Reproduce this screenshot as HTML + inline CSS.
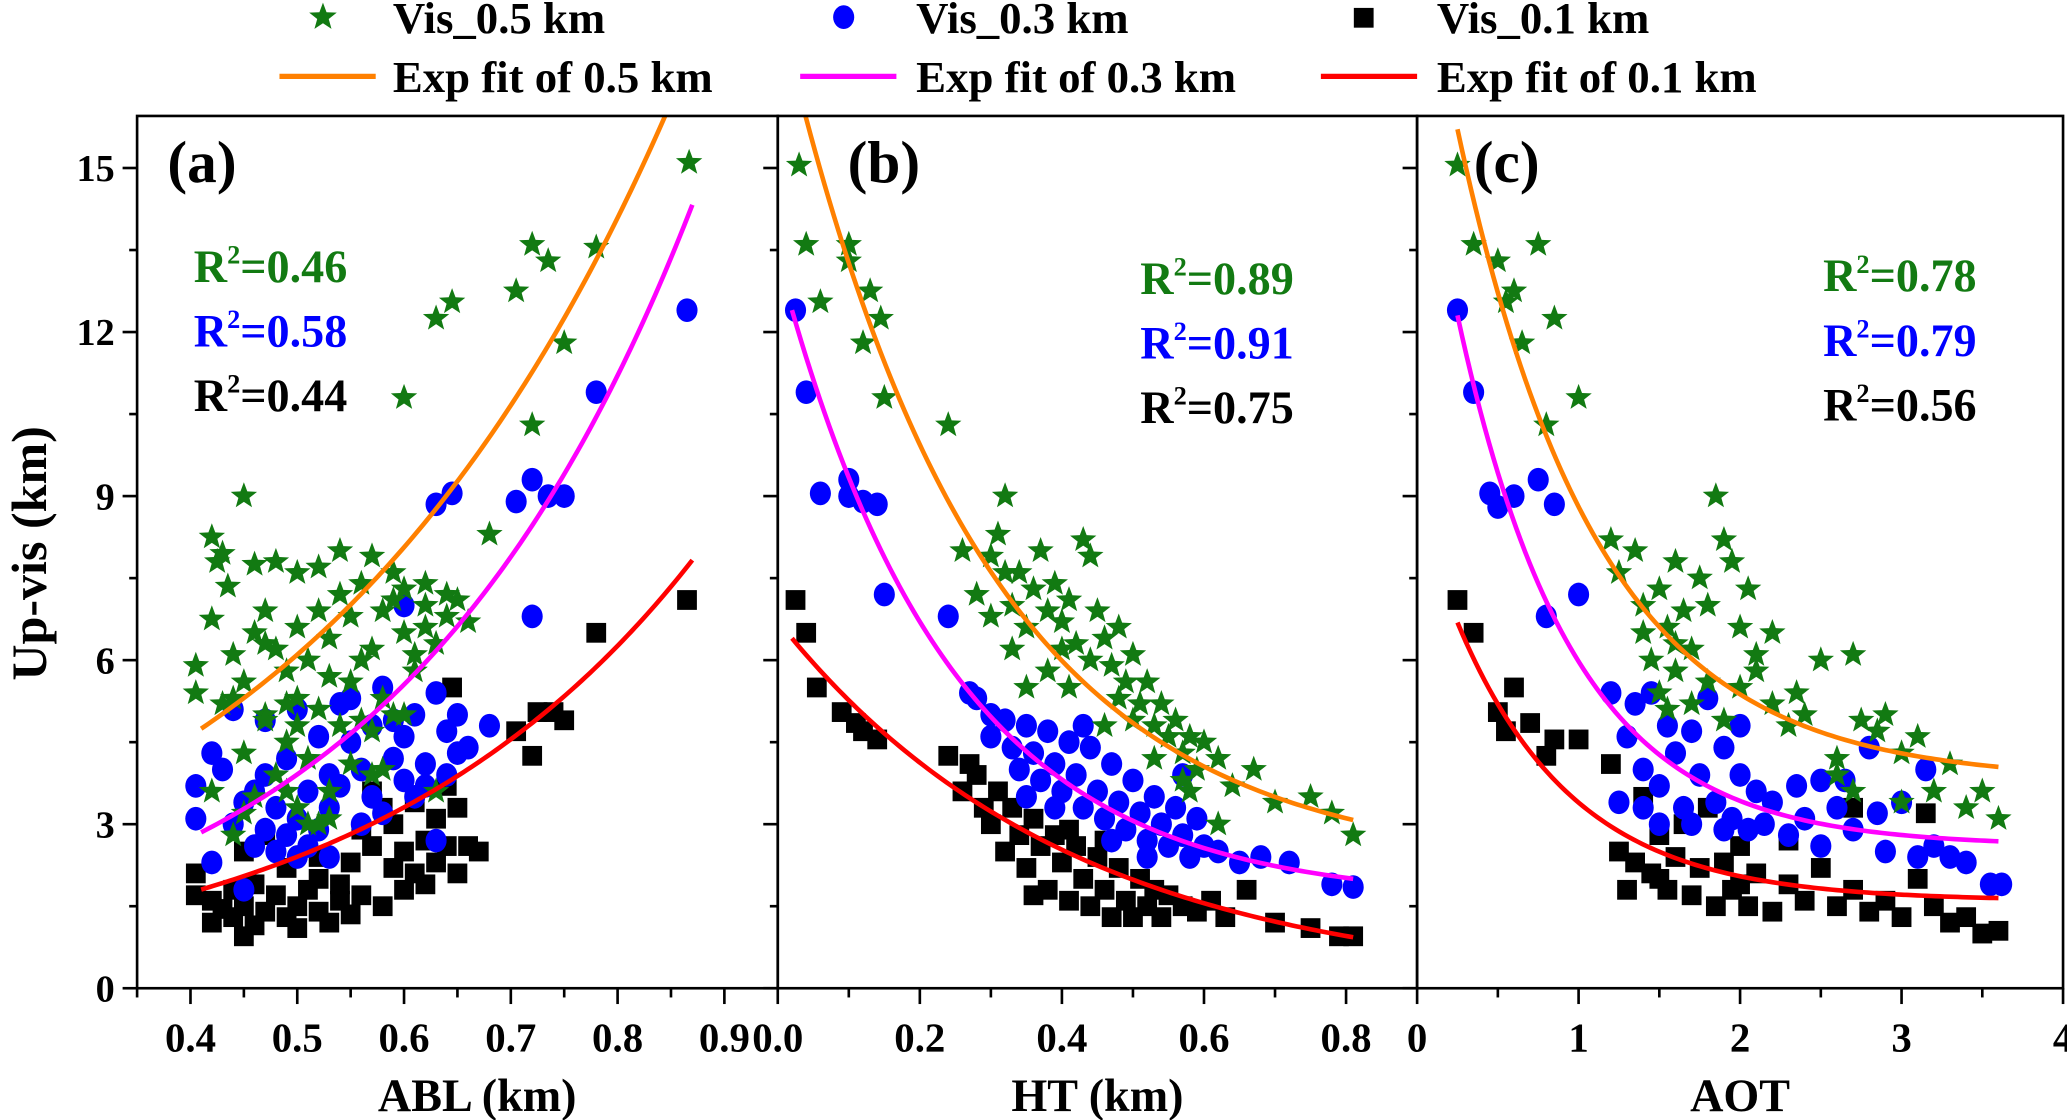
<!DOCTYPE html>
<html><head><meta charset="utf-8"><style>
html,body{margin:0;padding:0;background:#fff;}
svg{display:block;}
svg text{font-family:"Liberation Serif","DejaVu Serif",serif;font-weight:bold;}
</style></head><body>
<svg id="chart" xmlns="http://www.w3.org/2000/svg" width="2067" height="1120" viewBox="0 0 1568 850" preserveAspectRatio="none" font-family="Liberation Serif, serif" font-weight="bold">
<g id="legend">
 <g><path id="lgStar" d="" fill="#127a12"/><text x="298" y="25" font-size="34">Vis_0.5 km</text></g>
 <g><ellipse cx="640" cy="13" rx="8" ry="9" fill="#0000ff"/><text x="695" y="25" font-size="34">Vis_0.3 km</text></g>
 <g><rect x="1027" y="6" width="15" height="15" fill="#000"/><text x="1090" y="25" font-size="34">Vis_0.1 km</text></g>
 <g><line x1="212" y1="58" x2="285" y2="58" stroke="#ff8000" stroke-width="4"/><text x="298" y="70" font-size="34">Exp fit of 0.5 km</text></g>
 <g><line x1="607" y1="58" x2="680" y2="58" stroke="#ff00ff" stroke-width="4"/><text x="695" y="70" font-size="34">Exp fit of 0.3 km</text></g>
 <g><line x1="1002" y1="58" x2="1075" y2="58" stroke="#ff0000" stroke-width="4"/><text x="1090" y="70" font-size="34">Exp fit of 0.1 km</text></g>
</g>
<g id="plots"></g>
<text transform="translate(35,420) rotate(-90)" text-anchor="middle" font-size="38">Up-vis (km)</text>
</svg>
<script>
const NS="http://www.w3.org/2000/svg";
// ---- data ----
const panelNames=["a","b","c"];
const xTitles=["ABL (km)","HT (km)","AOT"];
const xRanges=[[0.35,0.95],[0,0.9],[0,4]];
const xTickLabels=[["0.4","0.5","0.6","0.7","0.8","0.9"],["0.0","0.2","0.4","0.6","0.8"],["0","1","2","3","4"]];
const xMinorTicks=[[0.35,0.45,0.55,0.65,0.75,0.85],[0.1,0.3,0.5,0.7],[0.5,1.5,2.5,3.5]];
const yTickLabels=["0","3","6","9","12","15"];
const yMinorTicks=[1.5,4.5,7.5,10.5,13.5];
const r2a=["0.46","0.58","0.44"];
const r2b=["0.89","0.91","0.75"];
const r2c=["0.78","0.79","0.56"];
// fit params: y = c + A*exp(k*x)
const fitA_05=[0,1.512,2.79], fitA_03=[0,0.676,3.51], fitA_01=[0,0.488,3.19];
const fitB_05=[2.2,15.81,-3.571], fitB_03=[1.6,11.74,-4.167], fitB_01=[0,6.72,-2.439];
const fitC_05=[3.8,15.9,-1.156], fitC_03=[2.6,13.8,-1.408], fitC_01=[1.6,7.2,-1.389];
const fitXa=[0.41,0.87], fitXb=[0.02,0.81], fitXc=[0.25,3.6];
const aGreen=[[0.867,15.1],[0.72,13.6],[0.735,13.3],[0.78,13.55],[0.705,12.75],[0.645,12.55],[0.63,12.25],[0.75,11.8],[0.60,10.8],[0.72,10.3],[0.45,9.0],[0.42,8.25],[0.43,7.95],[0.425,7.8],[0.435,7.35],[0.46,7.75],[0.48,7.8],[0.50,7.6],[0.52,7.7],[0.54,8.0],[0.57,7.9],[0.59,7.6],[0.60,7.3],[0.62,7.0],[0.64,6.8],[0.65,7.1],[0.66,6.7],[0.68,8.3],[0.405,5.9],[0.405,5.4],[0.42,6.75],[0.43,5.2],[0.44,6.1],[0.45,5.6],[0.46,6.5],[0.47,6.9],[0.47,5.0],[0.48,6.2],[0.49,5.8],[0.49,4.5],[0.50,6.6],[0.50,5.3],[0.51,6.0],[0.51,4.2],[0.52,6.9],[0.52,5.1],[0.53,6.4],[0.53,3.6],[0.54,7.2],[0.54,4.8],[0.55,6.8],[0.55,5.6],[0.56,7.4],[0.56,4.9],[0.57,6.2],[0.57,3.9],[0.58,6.9],[0.58,5.3],[0.59,7.1],[0.59,5.0],[0.60,6.5],[0.61,5.8],[0.62,6.6],[0.63,6.3],[0.63,3.6],[0.64,7.2],[0.45,4.3],[0.46,3.5],[0.47,4.9],[0.48,3.9],[0.49,5.2],[0.50,3.3],[0.51,3.0],[0.52,3.0],[0.53,3.1],[0.44,2.8],[0.45,3.2],[0.42,3.6],[0.55,4.1],[0.57,4.7],[0.58,4.0],[0.60,5.0],[0.61,6.1],[0.50,4.8],[0.49,3.6],[0.53,5.7],[0.47,6.3],[0.44,5.3],[0.56,6.0],[0.62,7.4]];
const aBlue=[[0.865,12.4],[0.78,10.9],[0.72,9.3],[0.735,9.0],[0.75,9.0],[0.705,8.9],[0.645,9.05],[0.63,8.85],[0.72,6.8],[0.60,7.0],[0.405,3.7],[0.405,3.1],[0.42,4.3],[0.42,2.3],[0.43,4.0],[0.44,3.0],[0.45,3.4],[0.45,1.8],[0.46,2.6],[0.46,3.6],[0.47,2.9],[0.47,3.9],[0.48,2.5],[0.48,3.3],[0.49,2.8],[0.49,4.2],[0.50,3.1],[0.50,2.4],[0.51,3.6],[0.51,2.6],[0.52,2.9],[0.52,4.6],[0.53,3.3],[0.53,2.4],[0.54,5.2],[0.54,3.7],[0.55,5.3],[0.55,4.5],[0.56,4.0],[0.56,3.0],[0.57,3.5],[0.57,4.8],[0.58,5.5],[0.58,3.2],[0.59,4.2],[0.59,4.9],[0.60,3.8],[0.60,4.6],[0.61,5.0],[0.61,3.5],[0.62,4.1],[0.62,3.7],[0.63,5.4],[0.63,2.7],[0.64,4.7],[0.64,3.9],[0.65,5.0],[0.65,4.3],[0.66,4.4],[0.68,4.8],[0.50,5.1],[0.47,4.9],[0.44,5.1],[0.53,3.9]];
const aBlack=[[0.865,7.1],[0.78,6.5],[0.725,5.05],[0.74,5.05],[0.75,4.9],[0.705,4.7],[0.72,4.25],[0.645,5.5],[0.405,2.1],[0.405,1.7],[0.42,1.2],[0.42,1.6],[0.43,1.45],[0.44,1.8],[0.44,1.3],[0.45,0.95],[0.45,1.5],[0.46,1.15],[0.46,1.9],[0.47,1.4],[0.48,1.7],[0.49,1.3],[0.49,2.2],[0.50,1.5],[0.50,1.1],[0.51,1.8],[0.52,1.4],[0.52,2.0],[0.53,1.2],[0.54,1.6],[0.54,1.9],[0.55,2.3],[0.55,1.35],[0.56,1.7],[0.56,2.9],[0.57,2.6],[0.58,1.5],[0.58,3.3],[0.59,2.2],[0.59,3.0],[0.60,1.8],[0.60,2.5],[0.61,2.1],[0.61,3.4],[0.62,2.7],[0.62,1.9],[0.63,2.3],[0.63,3.1],[0.64,2.6],[0.64,3.7],[0.65,2.1],[0.65,3.3],[0.66,2.6],[0.67,2.5],[0.47,2.8],[0.45,2.5],[0.52,2.4],[0.57,3.6]];
const bGreen=[[0.03,15.05],[0.04,13.6],[0.10,13.6],[0.10,13.3],[0.13,12.75],[0.145,12.25],[0.06,12.55],[0.12,11.8],[0.15,10.8],[0.24,10.3],[0.32,9.0],[0.26,8.0],[0.30,7.9],[0.31,8.3],[0.32,7.6],[0.28,7.2],[0.30,6.8],[0.33,7.0],[0.34,7.6],[0.35,6.6],[0.36,7.3],[0.37,8.0],[0.38,6.9],[0.39,7.4],[0.40,6.7],[0.41,7.1],[0.42,6.3],[0.43,8.2],[0.44,7.9],[0.44,6.0],[0.45,6.9],[0.46,6.4],[0.47,5.9],[0.48,6.6],[0.49,5.6],[0.50,6.1],[0.51,5.2],[0.52,5.6],[0.53,4.8],[0.54,5.2],[0.55,4.6],[0.56,4.9],[0.57,4.3],[0.58,4.6],[0.59,4.0],[0.60,4.5],[0.62,4.2],[0.64,3.7],[0.67,4.0],[0.70,3.4],[0.62,3.0],[0.75,3.5],[0.78,3.2],[0.81,2.8],[0.35,5.5],[0.38,5.8],[0.41,5.5],[0.46,4.8],[0.50,4.9],[0.53,4.2],[0.57,3.8],[0.48,5.3],[0.33,6.2],[0.40,6.2],[0.58,3.6]];
const bBlue=[[0.025,12.4],[0.04,10.9],[0.06,9.05],[0.10,9.3],[0.10,9.0],[0.12,8.9],[0.14,8.85],[0.15,7.2],[0.24,6.8],[0.27,5.4],[0.28,5.3],[0.30,5.0],[0.30,4.6],[0.32,4.9],[0.33,4.4],[0.34,4.0],[0.35,4.8],[0.36,4.3],[0.37,3.8],[0.38,4.7],[0.39,4.1],[0.40,3.6],[0.41,4.5],[0.42,3.9],[0.43,3.3],[0.44,4.4],[0.45,3.6],[0.46,3.1],[0.47,4.1],[0.48,3.4],[0.49,2.9],[0.50,3.8],[0.51,3.2],[0.52,2.7],[0.53,3.5],[0.54,3.0],[0.55,2.6],[0.56,3.3],[0.57,2.8],[0.58,2.4],[0.59,3.1],[0.60,2.6],[0.62,2.5],[0.65,2.3],[0.68,2.4],[0.72,2.3],[0.78,1.9],[0.81,1.85],[0.35,3.5],[0.39,3.3],[0.43,4.8],[0.47,2.7],[0.52,2.4],[0.57,3.9]];
const bBlack=[[0.025,7.1],[0.04,6.5],[0.055,5.5],[0.09,5.05],[0.11,4.85],[0.12,4.7],[0.14,4.55],[0.24,4.25],[0.27,4.1],[0.26,3.6],[0.28,3.9],[0.29,3.3],[0.30,3.0],[0.31,3.6],[0.32,2.5],[0.33,3.3],[0.34,2.8],[0.35,2.2],[0.36,3.1],[0.37,2.6],[0.38,1.8],[0.39,2.8],[0.40,2.3],[0.41,1.6],[0.42,2.6],[0.43,2.0],[0.44,1.5],[0.45,2.4],[0.46,1.8],[0.47,1.3],[0.48,2.2],[0.49,1.6],[0.50,1.3],[0.51,2.0],[0.52,1.5],[0.53,1.8],[0.54,1.3],[0.55,1.7],[0.57,1.5],[0.59,1.4],[0.61,1.6],[0.63,1.3],[0.66,1.8],[0.70,1.2],[0.75,1.1],[0.79,0.95],[0.81,0.95],[0.36,1.7],[0.41,2.9],[0.46,2.7]];
const cGreen=[[0.25,15.05],[0.35,13.6],[0.5,13.3],[0.6,12.75],[0.55,12.55],[0.85,12.25],[0.65,11.8],[1.0,10.8],[0.8,10.3],[1.85,9.0],[0.75,13.6],[1.2,8.2],[1.35,8.0],[1.25,7.6],[1.4,7.0],[1.5,7.3],[1.55,6.6],[1.6,7.8],[1.65,6.9],[1.7,6.2],[1.75,7.5],[1.8,7.0],[1.9,8.2],[1.95,7.8],[2.0,6.6],[2.05,7.3],[2.1,6.1],[1.45,6.0],[1.5,5.4],[1.6,5.8],[1.7,5.2],[1.8,5.6],[1.9,4.9],[2.0,5.5],[2.1,5.8],[2.2,5.2],[2.3,4.8],[2.4,5.0],[2.5,6.0],[2.7,6.1],[2.75,4.9],[2.85,4.7],[2.9,5.0],[3.0,4.3],[3.1,4.6],[3.2,3.6],[3.3,4.1],[3.4,3.3],[3.5,3.6],[3.6,3.1],[2.6,4.2],[2.7,3.6],[3.0,3.4],[1.4,6.5],[1.6,6.3],[1.55,5.1],[2.2,6.5],[2.35,5.4],[2.6,3.9]];
const cBlue=[[0.25,12.4],[0.35,10.9],[0.45,9.05],[0.6,9.0],[0.5,8.8],[0.75,9.3],[0.85,8.85],[1.0,7.2],[0.8,6.8],[1.2,5.4],[1.35,5.2],[1.3,4.6],[1.4,4.0],[1.45,5.4],[1.5,3.7],[1.55,4.8],[1.6,4.3],[1.65,3.3],[1.7,4.7],[1.75,3.9],[1.8,5.3],[1.85,3.4],[1.9,4.4],[1.95,3.1],[2.0,3.9],[2.05,2.9],[2.1,3.6],[2.15,3.0],[2.2,3.4],[2.3,2.8],[2.35,3.7],[2.4,3.1],[2.5,2.6],[2.6,3.3],[2.65,3.8],[2.7,2.9],[2.8,4.4],[2.85,3.2],[2.9,2.5],[3.0,3.4],[3.1,2.4],[3.15,4.0],[3.2,2.6],[3.3,2.4],[3.4,2.3],[3.55,1.9],[3.62,1.9],[1.25,3.4],[1.5,3.0],[1.7,3.0],[1.9,2.9],[2.5,3.8],[1.4,3.3],[2.0,4.8]];
const cBlack=[[0.25,7.1],[0.35,6.5],[0.5,5.05],[0.55,4.7],[0.6,5.5],[0.7,4.85],[0.8,4.25],[0.85,4.55],[1.0,4.55],[1.2,4.1],[1.25,2.5],[1.3,1.8],[1.35,2.3],[1.4,3.5],[1.45,2.1],[1.5,2.8],[1.55,1.8],[1.6,2.4],[1.65,3.0],[1.7,1.7],[1.75,2.2],[1.8,3.3],[1.85,1.5],[1.9,2.3],[1.95,1.8],[2.0,2.6],[2.05,1.5],[2.1,2.1],[2.2,1.4],[2.3,1.9],[2.4,1.6],[2.5,2.2],[2.6,1.5],[2.7,1.8],[2.8,1.4],[2.9,1.6],[3.0,1.3],[3.1,2.0],[3.2,1.5],[3.3,1.2],[3.4,1.3],[3.5,1.0],[3.6,1.05],[2.3,2.7],[2.7,3.3],[3.15,3.2],[1.5,2.0],[2.0,1.9]];

// ---- layout ----
const panelPx=[[104,590],[590,1075],[1075,1565]];
const Y0=750, YTOP=88, YMAX=(750-88)/41.5;
const GREEN="#127a12";
function yS(v){return Y0-(v/YMAX)*(Y0-YTOP);}
function xS(p,v){const r=xRanges[p],px=panelPx[p];return px[0]+(v-r[0])/(r[1]-r[0])*(px[1]-px[0]);}
function starPath(cx,cy,R,r){let d="";for(let i=0;i<10;i++){const a=-Math.PI/2+i*Math.PI/5,rr=i%2?r:R;d+=(i?"L":"M")+(cx+rr*Math.cos(a)).toFixed(2)+","+(cy+rr*Math.sin(a)).toFixed(2);}return d+"Z";}
function mk(tag,attrs,parent){const e=document.createElementNS(NS,tag);for(const k in attrs)e.setAttribute(k,attrs[k]);parent.appendChild(e);return e;}
document.getElementById("lgStar").setAttribute("d",starPath(245,13,11,4.6));

const plots=document.getElementById("plots");
const defs=mk("defs",{},plots);
const greens=[aGreen,bGreen,cGreen],blues=[aBlue,bBlue,cBlue],blacks=[aBlack,bBlack,cBlack];
const fits=[[fitA_05,fitA_03,fitA_01],[fitB_05,fitB_03,fitB_01],[fitC_05,fitC_03,fitC_01]];
const fitXs=[fitXa,fitXb,fitXc];
const r2s=[r2a,r2b,r2c];
const r2pos=[[147,214],[865,223],[1383,221]];
const labelPos=[127,643,1118];
const fitColors=["#ff8000","#ff00ff","#ff0000"];
const r2Colors=[GREEN,"#0000ff","#000000"];

for(let p=0;p<3;p++){
  const g=mk("g",{},plots);
  
  
  const cp=mk("clipPath",{id:"clip"+p},defs);
  mk("rect",{x:panelPx[p][0],y:YTOP,width:panelPx[p][1]-panelPx[p][0],height:Y0-YTOP},cp);
  const marks=mk("g",{"clip-path":"url(#clip"+p+")"},g);
  blacks[p].forEach(d=>{const e=mk("rect",{x:xS(p,d[0])-7.5,y:yS(d[1])-7.5,width:15,height:15,fill:"#000"},marks);
    
    });
  blues[p].forEach(d=>{const e=mk("ellipse",{cx:xS(p,d[0]),cy:yS(d[1]),rx:8,ry:9,fill:"#0000ff"},marks);
    
    });
  greens[p].forEach(d=>{const e=mk("path",{d:starPath(xS(p,d[0]),yS(d[1]),10.5,4.4),fill:GREEN},marks);
    
    });
  fits[p].forEach((f,i)=>{
    const [x0,x1]=fitXs[p];let d="";
    for(let k=0;k<=120;k++){const x=x0+(x1-x0)*k/120,y=f[0]+f[1]*Math.exp(f[2]*x);d+=(k?"L":"M")+xS(p,x).toFixed(2)+","+yS(y).toFixed(2);}
    const e=mk("path",{d:d,fill:"none",stroke:fitColors[i],"stroke-width":3.5},marks);
    
    
  });
  mk("rect",{x:panelPx[p][0],y:YTOP,width:panelPx[p][1]-panelPx[p][0],height:Y0-YTOP,fill:"none",stroke:"#000","stroke-width":2},g);
  yTickLabels.forEach(l=>{const y=yS(+l);mk("line",{x1:panelPx[p][0]-11,y1:y,x2:panelPx[p][0],y2:y,stroke:"#000","stroke-width":2},g);
    if(p===0){const t=mk("text",{x:87,y:y+10,"text-anchor":"end","font-size":29},g);t.textContent=l;
      
      }});
  yMinorTicks.forEach(v=>{const y=yS(v);mk("line",{x1:panelPx[p][0]-6,y1:y,x2:panelPx[p][0],y2:y,stroke:"#000","stroke-width":2},g);});
  xTickLabels[p].forEach(l=>{const x=xS(p,+l);mk("line",{x1:x,y1:Y0,x2:x,y2:Y0+12,stroke:"#000","stroke-width":2},g);
    const t=mk("text",{x:x,y:798,"text-anchor":"middle","font-size":31},g);t.textContent=l;
    
    });
  xMinorTicks[p].forEach(v=>{const x=xS(p,v);mk("line",{x1:x,y1:Y0,x2:x,y2:Y0+7,stroke:"#000","stroke-width":2},g);});
  const xt=mk("text",{x:(panelPx[p][0]+panelPx[p][1])/2+(p===0?15:0),y:843,"text-anchor":"middle","font-size":35},g);
  xt.textContent=xTitles[p];
  
  
  const pl=mk("text",{x:labelPos[p],y:138,"font-size":45},g);pl.textContent="("+panelNames[p]+")";
  
  
  r2s[p].forEach((v,i)=>{
    const t=mk("text",{x:r2pos[p][0],y:r2pos[p][1]+i*49,"font-size":35,fill:r2Colors[i]},g);
    
    
    t.appendChild(document.createTextNode("R"));
    const s=mk("tspan",{"font-size":20,dy:-14},t);s.textContent="2";
    const r=mk("tspan",{dy:14},t);r.textContent="="+v;
  });
}
</script>
</body></html>
